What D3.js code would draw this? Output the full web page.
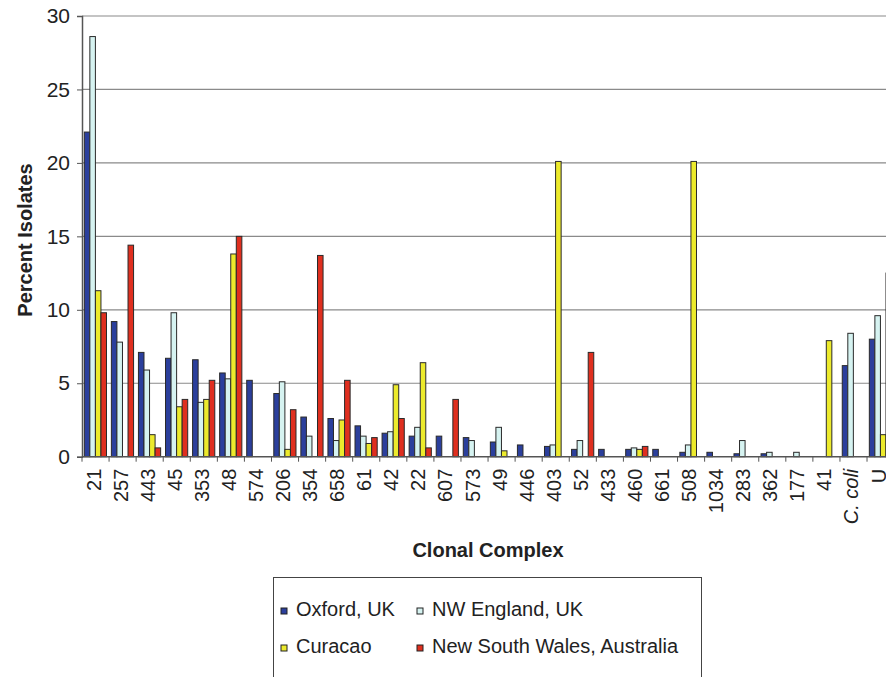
<!DOCTYPE html>
<html>
<head>
  <meta charset="utf-8">
  <title>Clonal complex distribution</title>
  <style>
    body { margin: 0; background: #fff; }
    text { font-family: "Liberation Sans", Arial, sans-serif; fill: #222; }
  </style>
</head>
<body>
  <svg width="886" height="677"></svg>
  <script src="https://d3js.org/d3.v7.min.js"></script>
  <script>
    // data (percent of isolates)
    var categories = ["21", "257", "443", "45", "353", "48", "574", "206", "354", "658",
      "61", "42", "22", "607", "573", "49", "446", "403", "52", "433",
      "460", "661", "508", "1034", "283", "362", "177", "41", "C. coli", "U"];
    var seriesNames = ["Oxford, UK", "NW England, UK", "Curacao", "New South Wales, Australia"];
    var seriesColors = ["#2b3f9c", "#d6f3f1", "#ecea2c", "#df2f1f"];

    var oxford = [22.1, 9.2, 7.1, 6.7, 6.6, 5.7, 5.2, 4.3, 2.7, 2.6, 2.1, 1.6, 1.4, 1.4, 1.3,
      1.0, 0.8, 0.7, 0.5, 0.5, 0.5, 0.5, 0.3, 0.3, 0.2, 0.2, 0, 0, 6.2, 8.0];
    var nwEngland = [28.6, 7.8, 5.9, 9.8, 3.7, 5.3, 0, 5.1, 1.4, 1.1, 1.4, 1.7, 2.0, 0, 1.1,
      2.0, 0, 0.8, 1.1, 0, 0.6, 0, 0.8, 0, 1.1, 0.3, 0.3, 0, 8.4, 9.6];
    var curacao = [11.3, 0, 1.5, 3.4, 3.9, 13.8, 0, 0.5, 0, 2.5, 0.9, 4.9, 6.4, 0, 0,
      0.4, 0, 20.1, 0, 0, 0.5, 0, 20.1, 0, 0, 0, 0, 7.9, 0, 1.5];
    var nsw = [9.8, 14.4, 0.6, 3.9, 5.2, 15.0, 0, 3.2, 13.7, 5.2, 1.3, 2.6, 0.6, 3.9, 0,
      0, 0, 0, 7.1, 0, 0.7, 0, 0, 0, 0, 0, 0, 0, 0, 12.5];
    var yTicks = [0, 5, 10, 15, 20, 25, 30];

    var allSeries = [oxford, nwEngland, curacao, nsw];

    var svg = d3.select("svg");
    var plotLeft = 82, plotTop = 16, plotBottom = 456.7;
    var step = 27.07;

    // the plot runs past the right edge of the picture, as in the original
    var x0 = d3.scaleBand().domain(categories).range([plotLeft, plotLeft + step * categories.length]);
    var x1 = d3.scaleBand().domain(d3.range(4))
      .range([x0.bandwidth() * 0.085, x0.bandwidth() * 0.905]);
    var y = d3.scaleLinear().domain([0, 30]).range([plotBottom, plotTop]);

    // gridlines
    svg.append("g")
      .selectAll("line")
      .data(yTicks.filter(function (d) { return d > 0; }))
      .enter().append("line")
      .attr("x1", plotLeft).attr("x2", 886)
      .attr("y1", function (d) { return y(d); })
      .attr("y2", function (d) { return y(d); })
      .attr("stroke", "#8a8a8a")
      .attr("stroke-width", 1.2);

    // bars
    var bars = [];
    categories.forEach(function (c, i) {
      allSeries.forEach(function (s, k) {
        if (s[i] > 0) bars.push({ cat: c, k: k, v: s[i] });
      });
    });
    svg.append("g")
      .selectAll("rect")
      .data(bars)
      .enter().append("rect")
      .attr("x", function (d) { return x0(d.cat) + x1(d.k); })
      .attr("width", x1.bandwidth())
      .attr("y", function (d) { return y(d.v); })
      .attr("height", function (d) { return plotBottom - y(d.v); })
      .attr("fill", function (d) { return seriesColors[d.k]; })
      .attr("stroke", "#2a2a2a")
      .attr("stroke-width", 1);

    // y axis
    var yAxis = svg.append("g")
      .attr("transform", "translate(" + plotLeft + ",0)")
      .call(d3.axisLeft(y).tickValues(yTicks).tickSize(5).tickPadding(7));
    yAxis.select(".domain").attr("stroke", "#555").attr("stroke-width", 1.5);
    yAxis.selectAll(".tick line").attr("stroke", "#555");
    yAxis.selectAll("text")
      .style("font-size", "21px")
      .style("font-family", "'Liberation Sans', Arial, sans-serif")
      .attr("fill", "#222");

    // x axis: baseline, ticks at group boundaries, rotated labels
    svg.append("line")
      .attr("x1", plotLeft).attr("x2", 886)
      .attr("y1", plotBottom).attr("y2", plotBottom)
      .attr("stroke", "#555").attr("stroke-width", 1.5);
    svg.append("g")
      .selectAll("line")
      .data(categories)
      .enter().append("line")
      .attr("x1", function (d) { return x0(d); })
      .attr("x2", function (d) { return x0(d); })
      .attr("y1", plotBottom).attr("y2", plotBottom + 5)
      .attr("stroke", "#555");
    svg.append("g")
      .selectAll("text")
      .data(categories)
      .enter().append("text")
      .attr("transform", function (d) {
        return "translate(" + (x0(d) + x0.bandwidth() / 2) + "," + (plotBottom + 12) + ") rotate(-90)";
      })
      .attr("text-anchor", "end")
      .attr("dy", "0.25em")
      .style("font-size", "20px")
      .style("font-style", function (d) { return d === "C. coli" ? "italic" : "normal"; })
      .text(function (d) { return d; });

    // axis titles
    svg.append("text")
      .attr("transform", "translate(32,240) rotate(-90)")
      .attr("text-anchor", "middle")
      .style("font-size", "20px")
      .style("font-weight", "bold")
      .text("Percent Isolates");
    svg.append("text")
      .attr("x", 488).attr("y", 557)
      .attr("text-anchor", "middle")
      .style("font-size", "20px")
      .style("font-weight", "bold")
      .text("Clonal Complex");

    // legend
    var legend = svg.append("g");
    legend.append("rect")
      .attr("x", 273.5).attr("y", 577.5)
      .attr("width", 428).attr("height", 130)
      .attr("fill", "#fff")
      .attr("stroke", "#444");
    var legendPos = [[281, 616], [417, 616], [281, 653], [417, 653]];
    var items = legend.selectAll("g.item")
      .data(seriesNames)
      .enter().append("g")
      .attr("class", "item")
      .attr("transform", function (d, i) {
        return "translate(" + legendPos[i][0] + "," + legendPos[i][1] + ")";
      });
    items.append("rect")
      .attr("x", 0).attr("y", -8)
      .attr("width", 6).attr("height", 6)
      .attr("fill", function (d, i) { return seriesColors[i]; })
      .attr("stroke", "#222");
    items.append("text")
      .attr("x", 15)
      .style("font-size", "20px")
      .text(function (d) { return d; });
  </script>
</body>
</html>
